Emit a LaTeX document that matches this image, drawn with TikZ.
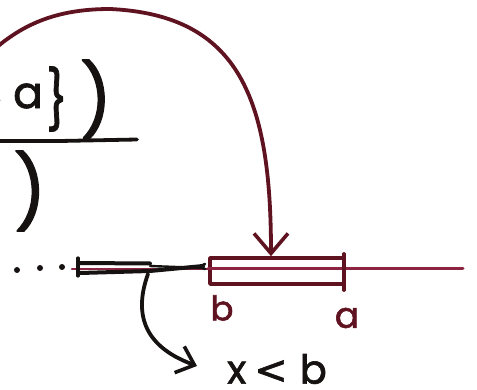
\documentclass[tikz,border=0pt]{standalone}
\usepackage{fontspec}
\setmainfont{Poppins}[FakeBold=1.6]
\newfontfamily\dejavu{DejaVu Sans}[FakeBold=1.6]
\usetikzlibrary{arrows.meta}
\definecolor{maroon}{RGB}{95,18,32}
\definecolor{redline}{RGB}{140,35,65}
\definecolor{ink}{RGB}{22,18,18}
\tikzset{
  pen/.style={line width=3.8pt, line cap=round, line join=round},
  glyph/.style={inner sep=0pt, outer sep=0pt, text=ink},
  redglyph/.style={inner sep=0pt, outer sep=0pt, text=maroon},
  barb/.style={-{Straight Barb[length=20pt,width=34pt,line width=3.6pt]}},
  smallbarb/.style={-{Straight Barb[length=16pt,width=28pt,line width=3.6pt]}}
}
\newcommand{\fs}[1]{\fontsize{#1}{#1}\selectfont}
\begin{document}
\begin{tikzpicture}[x=1pt,y=-1pt]
\useasboundingbox (0,0) rectangle (477,390);
% upper expression (partly outside picture)
\node[glyph, anchor=south east] (comma) at (1,111) {\fs{40},};
\node[glyph] (anum) at (28,96) {\fs{44}a};
\node[glyph, xscale=0.8] (brace) at (57,99) {\fs{58}\}};
\node[glyph] (paren1) at (96,99) {\fs{70})};
\draw[pen, ink] (-5,141) -- (60,141) -- (137,139.5);
\node[glyph, anchor=east] (brace2) at (3,180) {\fs{46}\}};
\node[glyph] (paren2) at (30,191) {\fs{72})};
% number line
\foreach \xx/\yy [count=\i] in {17/270,40/268,62/267}
  \fill[ink] (\xx,\yy) circle (3pt);
\coordinate (segL) at (72,269);
\draw[pen, redline, line width=2.4pt] (segL) -- (210,269);
\draw[pen, ink, line width=3.2pt] (78,258) -- (78,276);
\draw[pen, ink, line width=4pt] (79,263) -- (150,263.5);
\draw[pen, ink, line width=4pt] (80,273) -- (150,271) -- (203,266);
\draw[pen, ink, line width=2.4pt] (150,266) -- (203,268);
\draw[pen, ink, line width=2.6pt] (205,264) arc (90:270:2.5pt);
\node[draw=maroon, pen, line width=3.6pt, minimum width=134pt, minimum height=26pt, inner sep=0pt] (box) at (277,271) {};
\coordinate (lineR) at (463,269);
\draw[pen, redline, line width=3pt] (box.west |- lineR) -- (lineR);
\draw[pen, maroon] (344,254) -- (344,290);
\node[redglyph] (b) at (222,308) {\fs{34}b};
\node[redglyph] (a) at (347,318) {\fs{36}a};
% red arc arrow
\coordinate (arcS) at (-12,55);
\coordinate (arcTop) at (110,9);
\draw[pen, maroon, barb] (arcS) .. controls (20,25) and (55,9) .. (arcTop)
  .. controls (240,15) and (271,100) .. ([xshift=-6pt]box.north);
% black arrow
\node[glyph] (xlb) at (277,369) {\fs{40}x\hspace{8pt}{\dejavu<}\hspace{12pt}b};
\coordinate (segP) at (148,274);
\coordinate (tipB) at (197,366);
\draw[pen, ink, smallbarb] (segP) .. controls (135,310) and (140,345) .. (tipB);
\end{tikzpicture}
\end{document}
